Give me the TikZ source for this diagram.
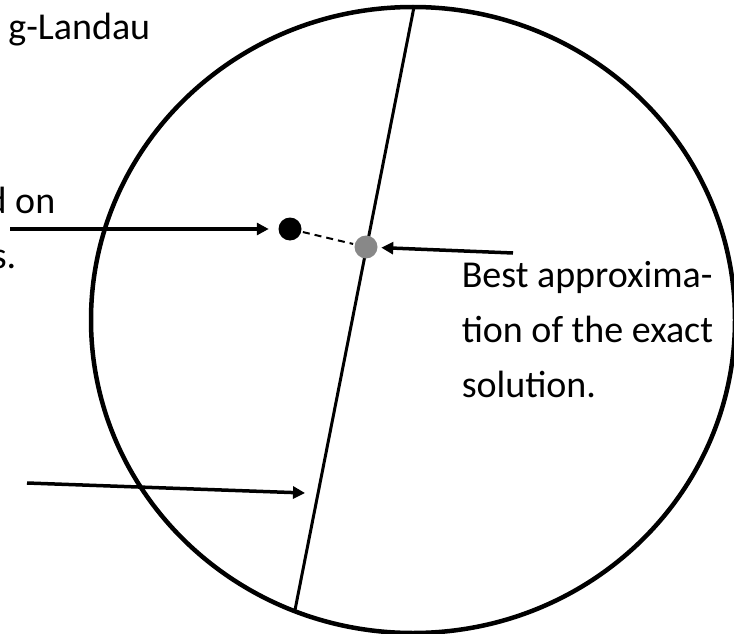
\documentclass[tikz,border=0pt]{standalone}
\usepackage{fontspec}
\setmainfont{Carlito}
\usetikzlibrary{arrows.meta}
\definecolor{dotgray}{RGB}{136,136,136}

\begin{document}
\begin{tikzpicture}[x=1pt,y=-1pt,line width=3.5pt,>={Triangle[length=12pt,width=12pt]},
  lbl/.style={inner sep=0pt,font=\fontsize{38}{55}\selectfont},
  dot/.style={circle,inner sep=0pt,minimum size=23pt}]
\useasboundingbox (0,0) rectangle (734,634);

\draw[line width=4.5pt] (413,320) ellipse (322 and 313);
\coordinate (top) at (414,7);
\coordinate (bot) at (295,610);
\draw[line width=3pt] (top) -- (bot);

\node[dot,fill=black] (guess) at (290,229) {};
\node[dot,fill=dotgray] (best) at (366,247) {};
\draw[dash pattern=on 7pt off 5pt,line width=2pt] (guess) -- (best);

\node[lbl,anchor=base east] (gl) at (152,40) {g-Landau};
\node[lbl,anchor=base east] (don) at (57,213) {d on};
\node[lbl,anchor=base east] (ss) at (18,268) {s.};
\node[lbl,anchor=base west,align=left] (bestlbl) at (460,397) {Best approxima-\\tion of the exact\\solution.};

\coordinate (a1) at (10,229);
\coordinate (a2) at (513,253);
\coordinate (a3) at (27,483);
\coordinate (a3end) at (305,493);
\draw[->,shorten >=8pt] (a1) -- (guess);
\draw[->,shorten >=2pt] (a2) -- (best);
\draw[->] (a3) -- (a3end);
\end{tikzpicture}
\end{document}
